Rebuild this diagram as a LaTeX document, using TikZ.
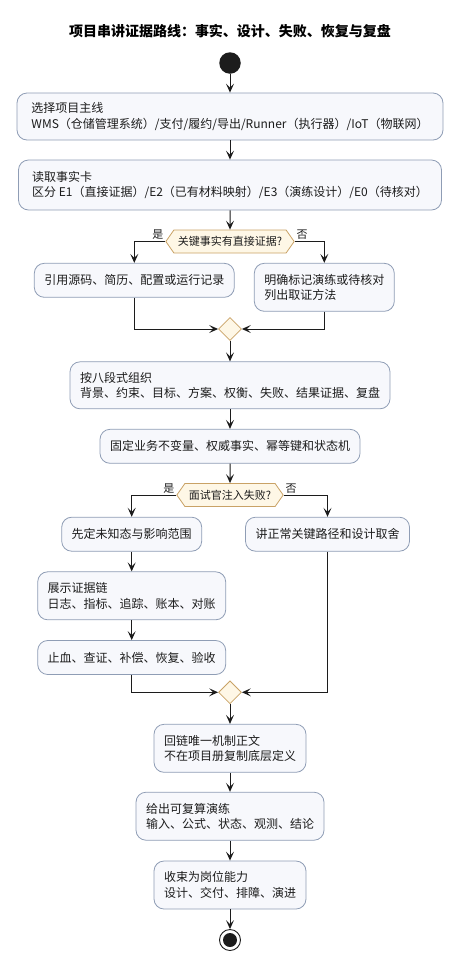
\documentclass[tikz,border=0pt]{standalone}
\usepackage{fontspec}
\setmainfont{Noto Sans CJK SC}
\usetikzlibrary{arrows.meta, positioning, shapes.geometric, shapes.symbols}

\definecolor{boxfill}{HTML}{F7F8FC}
\definecolor{boxline}{HTML}{8F9DB5}
\definecolor{askfill}{HTML}{FEF7E6}
\definecolor{askline}{HTML}{C9A266}
\definecolor{ink}{HTML}{1C1C1C}

\tikzset{
  act/.style={rectangle, rounded corners=10pt, draw=boxline, fill=boxfill, line width=0.8pt,
    align=left, inner xsep=10pt, text=ink, font=\fontsize{12}{15.5}\selectfont},
  ask/.style={shape=signal, signal to=east and west, signal pointer angle=110,
    draw=askline, fill=askfill, line width=0.8pt, inner xsep=4pt, minimum height=23pt,
    text=ink, font=\fontsize{11}{13}\selectfont},
  merge/.style={diamond, draw=askline, fill=askfill, line width=0.8pt, minimum size=23pt, inner sep=0pt},
  flow/.style={-{Stealth[length=9pt, width=8pt, inset=4pt]}, line width=1pt, draw=ink},
  lbl/.style={font=\fontsize{11}{13}\selectfont, text=ink, inner sep=1.5pt},
}

\begin{document}
\begin{tikzpicture}[x=1pt, y=-1pt]
    \useasboundingbox (0,0) rectangle (461,970);

    \node (title) at (230,31) {\fontsize{14}{16}\selectfont\bfseries 项目串讲证据路线：事实、设计、失败、恢复与复盘};
    \node (start) [circle, fill=ink, minimum size=21.5pt, inner sep=0pt] at (230,63) {};

    \node (b1) [act, minimum width=426pt, minimum height=47pt] at (230,116.5)
        {选择项目主线\\WMS（仓储管理系统）/支付/履约/导出/Runner（执行器）/IoT（物联网）};
    \node (b2) [act, minimum width=423pt, minimum height=50pt] at (230,185)
        {读取事实卡\\区分 E1（直接证据）/E2（已有材料映射）/E3（演练设计）/E0（待核对）};
    \node (d1) [ask] at (230,241.5) {关键事实有直接证据?};
    \node (b3) [act, minimum width=199pt, minimum height=34pt] at (134.3,280.3) {引用源码、简历、配置或运行记录};
    \node (b4) [act, minimum width=140pt, minimum height=48pt] at (324.3,287.3) {明确标记演练或待核对\\列出取证方法};
    \node (m1) [merge] at (230,329) {};

    \node (b5) [act, minimum width=320pt, minimum height=47pt] at (230,385.3)
        {按八段式组织\\背景、约束、目标、方案、权衡、失败、结果证据、复盘};
    \node (b6) [act, minimum width=260pt, minimum height=34pt] at (230,446.3) {固定业务不变量、权威事实、幂等键和状态机};
    \node (d2) [ask] at (230,495) {面试官注入失败?};
    \node (b7) [act, minimum width=140pt, minimum height=34pt] at (131.7,534.2) {先定未知态与影响范围};
    \node (b8) [act, minimum width=164pt, minimum height=34pt] at (327.5,534.2) {讲正常关键路径和设计取舍};
    \node (b9) [act, minimum width=188pt, minimum height=48pt] at (131.7,595.8) {展示证据链\\日志、指标、追踪、账本、对账};
    \node (b10) [act, minimum width=188pt, minimum height=34pt] at (131.7,657.5) {止血、查证、补偿、恢复、验收};
    \node (m2) [merge] at (230,692.3) {};

    \node (b11) [act, minimum width=152pt, minimum height=48pt] at (230,748.3) {回链唯一机制正文\\不在项目册复制底层定义};
    \node (b12) [act, minimum width=188pt, minimum height=48pt] at (230,816.2) {给出可复算演练\\输入、公式、状态、观测、结论};
    \node (b13) [act, minimum width=152pt, minimum height=48pt] at (230,885) {收束为岗位能力\\设计、交付、排障、演进};
    \node (stop) [circle, draw=ink, line width=0.9pt, fill=white, minimum size=21pt, inner sep=0pt] at (230,940) {};
    \node (stopdot) [circle, fill=ink, minimum size=14pt, inner sep=0pt] at (stop.center) {};

    \path[flow]
    (start) edge (b1)
    (b1) edge (b2)
    (b2) edge (d1)
    (m1) edge (b5)
    (b5) edge (b6)
    (b6) edge (d2)
    (b7) edge (b9)
    (b9) edge (b10)
    (m2) edge (b11)
    (b11) edge (b12)
    (b12) edge (b13)
    (b13) edge (stop);

    % branches
    \draw[flow] (d1.west) node [lbl, above left] {是} -| (b3.north);
    \draw[flow] (d1.east) node [lbl, above right] {否} -| (b4.north);
    \draw[flow] (b3.south) |- (m1.west);
    \draw[flow] (b4.south) |- (m1.east);

    \draw[flow] (d2.west) node [lbl, above left] {是} -| (b7.north);
    \draw[flow] (d2.east) node [lbl, above right] {否} -| (b8.north);
    \draw[flow] (b10.south) |- (m2.west);
    \draw[flow] (b8.south) |- (m2.east);

\end{tikzpicture}
\end{document}
